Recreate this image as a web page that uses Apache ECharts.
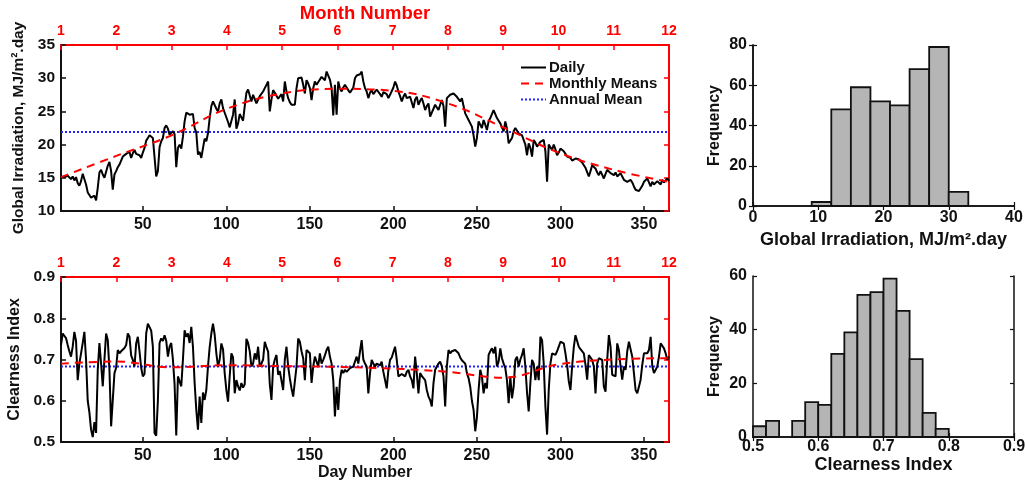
<!DOCTYPE html>
<html><head><meta charset="utf-8">
<script src="https://cdn.jsdelivr.net/npm/echarts@6/dist/echarts.min.js"></script>
<style>html,body{margin:0;padding:0;background:#fff}#c{width:1025px;height:481px}</style>
</head><body><div id="c"></div>
<script>
// ---- data ----
const irradiationDaily = [
15.2,15.0,15.1,14.9,15.3,15.0,14.8,15.2,14.6,15.1,
14.2,13.8,14.5,15.6,15.9,14.0,12.8,12.4,12.0,11.8,
12.3,11.6,13.5,15.8,16.2,15.5,15.0,15.3,16.8,17.4,
16.0,13.2,15.5,16.0,16.6,17.0,17.6,18.2,18.5,18.6,
18.3,18.9,18.0,18.7,19.2,18.6,18.9,18.4,18.0,18.8,
19.5,20.6,21.0,21.4,21.2,21.0,20.8,15.2,16.0,19.6,
20.5,21.0,22.5,22.9,22.4,21.5,21.2,22.0,21.6,16.6,
19.5,20.0,19.4,21.2,23.5,24.8,24.7,24.5,24.2,24.6,
22.5,21.8,18.5,18.9,18.0,18.3,20.9,20.5,21.7,24.0,
25.8,26.5,26.8,25.4,25.0,26.2,26.8,25.5,24.8,25.0,
23.4,22.6,22.8,24.5,26.8,22.4,23.2,24.6,24.1,23.6,
25.8,27.8,28.3,28.0,26.5,27.5,27.2,26.2,26.5,27.3,
27.2,28.0,28.5,29.0,29.5,25.0,26.8,28.2,27.8,27.6,
26.9,26.7,27.6,26.5,29.5,28.0,27.0,26.4,26.0,26.2,
26.0,28.5,30.0,30.2,30.1,29.0,27.7,29.7,29.2,28.5,
26.7,28.5,29.5,29.0,29.2,29.8,30.2,29.9,29.7,31.0,
30.7,29.8,28.5,24.4,29.0,24.5,29.5,28.4,28.0,28.6,
29.0,28.6,28.2,27.8,27.5,28.6,30.0,30.4,30.2,30.6,
31.0,29.5,28.5,28.0,27.0,27.8,28.2,27.6,27.7,28.3,
28.0,27.6,27.2,27.9,28.2,27.6,27.0,27.5,27.2,28.6,
29.5,28.9,28.0,27.3,26.5,27.2,27.7,27.0,26.7,27.2,
27.5,25.5,26.8,27.2,26.0,26.6,27.0,26.2,25.2,25.8,
26.2,24.2,24.8,25.0,26.0,25.6,25.2,26.0,26.7,25.8,
22.7,27.0,27.3,27.5,27.6,27.7,27.5,27.2,26.9,26.5,
27.0,25.8,24.7,25.0,23.7,23.5,22.7,21.4,19.7,21.0,
23.5,23.0,22.5,23.7,23.0,22.2,23.5,24.0,24.2,25.2,
24.6,24.0,23.6,23.2,22.6,22.0,23.5,22.4,20.2,20.0,
21.0,22.0,22.5,22.2,21.7,21.5,21.4,21.4,20.0,18.4,
20.2,19.5,18.2,20.7,20.3,19.7,20.0,20.4,20.5,20.7,
19.0,14.4,20.0,19.8,19.2,20.0,19.3,18.4,18.8,19.4,
19.2,19.0,18.6,18.2,18.4,18.0,17.6,17.4,17.9,17.7,
17.8,18.0,17.3,16.9,16.5,16.2,15.2,16.0,16.9,16.6,
16.4,15.8,15.4,16.0,15.9,14.9,15.6,16.2,15.9,15.7,
15.5,15.4,15.8,15.2,15.0,15.7,15.2,14.7,14.6,14.4,
14.6,14.7,14.3,13.7,13.2,12.9,13.0,13.2,13.8,14.4,
14.6,14.9,14.3,13.7,14.4,14.0,13.9,14.5,14.2,14.0,
14.7,14.3,14.4,14.9,14.5
];
const clearnessDaily = [
0.735,0.763,0.760,0.752,0.735,0.720,0.707,0.731,0.767,0.745,
0.650,0.690,0.715,0.740,0.767,0.700,0.600,0.572,0.530,0.512,
0.548,0.522,0.675,0.740,0.690,0.635,0.700,0.763,0.747,0.675,
0.538,0.602,0.667,0.680,0.723,0.715,0.720,0.723,0.728,0.735,
0.763,0.755,0.710,0.699,0.683,0.739,0.755,0.720,0.680,0.659,
0.665,0.763,0.787,0.791,0.770,0.731,0.522,0.515,0.600,0.740,
0.751,0.745,0.759,0.745,0.707,0.731,0.740,0.700,0.640,0.516,
0.659,0.655,0.635,0.700,0.771,0.755,0.763,0.740,0.779,0.731,
0.643,0.578,0.530,0.610,0.546,0.620,0.602,0.626,0.683,0.730,
0.763,0.787,0.760,0.715,0.683,0.700,0.739,0.725,0.667,0.626,
0.598,0.660,0.715,0.705,0.618,0.650,0.635,0.625,0.643,0.632,
0.640,0.750,0.740,0.720,0.683,0.690,0.715,0.700,0.731,0.683,
0.690,0.700,0.743,0.730,0.719,0.640,0.602,0.683,0.700,0.711,
0.663,0.672,0.675,0.626,0.700,0.731,0.683,0.654,0.630,0.610,
0.607,0.683,0.751,0.743,0.720,0.703,0.650,0.723,0.720,0.715,
0.643,0.683,0.707,0.695,0.683,0.715,0.690,0.699,0.710,0.723,
0.731,0.707,0.690,0.650,0.562,0.634,0.578,0.650,0.675,0.667,
0.675,0.670,0.667,0.679,0.680,0.683,0.695,0.707,0.690,0.720,
0.747,0.700,0.690,0.683,0.618,0.667,0.699,0.690,0.683,0.690,
0.688,0.686,0.695,0.670,0.650,0.630,0.675,0.699,0.705,0.707,
0.731,0.700,0.659,0.662,0.665,0.667,0.659,0.670,0.675,0.659,
0.650,0.630,0.707,0.667,0.618,0.667,0.660,0.655,0.650,0.626,
0.610,0.602,0.586,0.643,0.675,0.683,0.690,0.695,0.683,0.659,
0.586,0.683,0.723,0.715,0.720,0.719,0.723,0.727,0.715,0.705,
0.698,0.698,0.690,0.667,0.655,0.634,0.600,0.578,0.526,0.560,
0.626,0.675,0.659,0.618,0.643,0.630,0.711,0.720,0.727,0.715,
0.731,0.683,0.695,0.727,0.703,0.690,0.679,0.650,0.594,0.659,
0.606,0.634,0.699,0.707,0.683,0.700,0.711,0.727,0.683,0.620,
0.574,0.643,0.699,0.690,0.650,0.683,0.650,0.755,0.747,0.690,
0.586,0.518,0.626,0.690,0.715,0.719,0.711,0.720,0.731,0.743,
0.745,0.739,0.715,0.687,0.647,0.626,0.683,0.730,0.759,0.755,
0.731,0.725,0.723,0.715,0.687,0.651,0.711,0.705,0.699,0.683,
0.618,0.690,0.703,0.700,0.699,0.634,0.622,0.699,0.759,0.731,
0.663,0.665,0.659,0.739,0.723,0.683,0.651,0.683,0.675,0.720,
0.743,0.739,0.707,0.667,0.626,0.618,0.634,0.651,0.687,0.715,
0.711,0.715,0.723,0.755,0.683,0.667,0.663,0.683,0.707,0.739,
0.735,0.727,0.715,0.699,0.707
];
const monthNumbers = [1,2,3,4,5,6,7,8,9,10,11,12];
const irradiationMonthly = [15.1,18.3,21.4,25.4,27.7,28.4,28.1,26.2,22.6,18.8,16.2,14.4];
const clearnessMonthly = [0.690,0.695,0.681,0.686,0.684,0.682,0.678,0.670,0.656,0.688,0.700,0.703];
const irradiationAnnualMean = 21.9;
const clearnessAnnualMean = 0.683;
const dayTicks = [50,100,150,200,250,300,350];
const irradiationBinEdges = [9,12,15,18,21,24,27,30,33];
const irradiationCounts = [2,48,59,52,50,68,79,7];
const clearnessBinEdges = [0.50,0.52,0.54,0.56,0.58,0.60,0.62,0.64,0.66,0.68,0.70,0.72,0.74,0.76,0.78,0.80];
const clearnessCounts = [4,6,0,6,13,12,31,39,53,54,59,47,29,9,3];

// ---- chart ----
const FONT = "'Liberation Sans', Arial, sans-serif";
const RED = '#ff0000';
const txt = (size, color) => ({fontFamily: FONT, fontWeight: 'bold', fontSize: size, color: color || '#111'});
const chart = echarts.init(document.getElementById('c'), null, {renderer: 'canvas'});

function dayAxis(grid, name) {
  return {type: 'value', gridIndex: grid, position: 'bottom', min: 1, max: 365,
    axisLine: {show: true, lineStyle: {color: '#111', width: 2}},
    axisTick: {show: true, inside: true, length: 5, customValues: dayTicks, lineStyle: {color: '#111', width: 1.5}},
    axisLabel: {show: true, customValues: dayTicks, margin: 6, ...txt(16, '#111')},
    splitLine: {show: false},
    name: name || '', nameLocation: 'middle', nameGap: 23, nameTextStyle: {...txt(16, '#111'), verticalAlign: 'top'}};
}
function monthAxis(grid, name) {
  return {type: 'value', gridIndex: grid, position: 'top', min: 1, max: 12, interval: 1,
    axisLine: {show: true, lineStyle: {color: RED, width: 2}},
    axisTick: {show: true, inside: true, length: 5, lineStyle: {color: RED, width: 1.5}},
    axisLabel: {show: true, margin: 7, ...txt(14, RED)},
    splitLine: {show: false},
    name: name || '', nameLocation: 'middle', nameGap: 19, nameTextStyle: txt(18.5, RED)};
}
function leftAxis(grid, min, max, interval, name, gap, nameSize, fmt) {
  return {type: 'value', gridIndex: grid, position: 'left', min, max, interval,
    axisLine: {show: true, lineStyle: {color: '#111', width: 2}},
    axisTick: {show: true, inside: true, length: 5, lineStyle: {color: '#111', width: 1.5}},
    axisLabel: {show: true, margin: 6, formatter: fmt, ...txt(15.5, '#111')},
    splitLine: {show: false},
    name, nameLocation: 'middle', nameGap: gap, nameTextStyle: txt(nameSize, '#111')};
}
function rightRedAxis(grid, min, max, interval) {
  return {type: 'value', gridIndex: grid, position: 'right', min, max, interval,
    axisLine: {show: true, lineStyle: {color: RED, width: 2}},
    axisTick: {show: true, inside: true, length: 5, lineStyle: {color: RED, width: 1.5}},
    axisLabel: {show: false}, splitLine: {show: false}};
}
function histX(grid, min, max, interval, name, gap, fmt, margin) {
  return {type: 'value', gridIndex: grid, position: 'bottom', min, max, interval,
    axisLine: {show: true, lineStyle: {color: '#111', width: 1.5}},
    axisTick: {show: true, inside: true, length: 4, lineStyle: {color: '#111', width: 1.2}},
    axisLabel: {show: true, margin, formatter: fmt, ...txt(16, '#111')},
    splitLine: {show: false},
    name, nameLocation: 'middle', nameGap: gap, nameTextStyle: {...txt(18, '#111'), verticalAlign: 'top'}};
}
function mirrorX(grid, min, max, interval) {
  return {type: 'value', gridIndex: grid, position: 'top', min, max, interval,
    axisLine: {show: true, lineStyle: {color: '#111', width: 1.5}},
    axisTick: {show: true, inside: true, length: 4, lineStyle: {color: '#111', width: 1.2}},
    axisLabel: {show: false}, splitLine: {show: false}};
}
function histY(grid, max, interval) {
  return {type: 'value', gridIndex: grid, position: 'left', min: 0, max, interval,
    axisLine: {show: true, lineStyle: {color: '#111', width: 1.5}},
    axisTick: {show: true, inside: true, length: 4, lineStyle: {color: '#111', width: 1.2}},
    axisLabel: {show: true, margin: 6, ...txt(16, '#111')},
    splitLine: {show: false},
    name: 'Frequency', nameLocation: 'middle', nameGap: 30, nameTextStyle: txt(16, '#111')};
}
function mirrorY(grid, max, interval) {
  return {type: 'value', gridIndex: grid, position: 'right', min: 0, max, interval,
    axisLine: {show: true, lineStyle: {color: '#111', width: 1.5}},
    axisTick: {show: true, inside: true, length: 4, lineStyle: {color: '#111', width: 1.2}},
    axisLabel: {show: false}, splitLine: {show: false}};
}
function histRender(params, api) {
  const x0 = api.value(0), x1 = api.value(1), c = api.value(2);
  if (!c) return null;
  const p0 = api.coord([x0, c]);
  const p1 = api.coord([x1, 0]);
  return {type: 'rect', shape: {x: p0[0], y: p0[1], width: p1[0] - p0[0], height: p1[1] - p0[1]},
    style: {fill: '#b5b5b5', stroke: '#111', lineWidth: 1.8}};
}
const f1 = v => v.toFixed(1);

const option = {
  backgroundColor: '#fff',
  animation: false,
  grid: [
    {left: 61, top: 45, width: 608, height: 166, outerBoundsMode: 'none'},
    {left: 61, top: 277, width: 608, height: 165, outerBoundsMode: 'none'},
    {left: 753, top: 45, width: 261, height: 161, outerBoundsMode: 'none'},
    {left: 753, top: 276, width: 261, height: 161, outerBoundsMode: 'none'}
  ],
  xAxis: [
    dayAxis(0), monthAxis(0, 'Month Number'),
    dayAxis(1, 'Day Number'), monthAxis(1),
    histX(2, 0, 40, 10, 'Global Irradiation, MJ/m².day', 25, undefined, 4), mirrorX(2, 0, 40, 10),
    histX(3, 0.5, 0.9, 0.1, 'Clearness Index', 17, f1, 2), mirrorX(3, 0.5, 0.9, 0.1)
  ],
  yAxis: [
    leftAxis(0, 10, 35, 5, 'Global Irradiation, MJ/m².day', 31, 15.5), rightRedAxis(0, 10, 35, 5),
    leftAxis(1, 0.5, 0.9, 0.1, 'Clearness Index', 35, 16, f1), rightRedAxis(1, 0.5, 0.9, 0.1),
    histY(2, 80, 20), mirrorY(2, 80, 20),
    histY(3, 60, 20), mirrorY(3, 60, 20)
  ],
  legend: {
    show: true, orient: 'vertical', left: 515, top: 55, itemWidth: 25, itemHeight: 10, itemGap: 1,
    data: ['Daily', 'Monthly Means', 'Annual Mean'],
    itemStyle: {opacity: 0},
    textStyle: {...txt(15, '#111'), padding: [0, 0, 0, -2]}
  },
  series: [
    {name: 'Daily', type: 'line', xAxisIndex: 0, yAxisIndex: 0, symbol: 'none',
     data: irradiationDaily.map((v, i) => [i + 1, v]), lineStyle: {color: '#000', width: 2}, itemStyle: {color: '#000'}, z: 3},
    {name: 'Monthly Means', type: 'line', xAxisIndex: 1, yAxisIndex: 0, symbol: 'none', smooth: 0.4,
     data: monthNumbers.map((m, i) => [m, irradiationMonthly[i]]), lineStyle: {color: RED, width: 2, type: [8, 6]}, itemStyle: {color: RED}, z: 4},
    {name: 'Annual Mean', type: 'line', xAxisIndex: 0, yAxisIndex: 0, symbol: 'none',
     data: [[1, irradiationAnnualMean], [365, irradiationAnnualMean]], lineStyle: {color: '#2222ff', width: 2, type: [2, 2]}, itemStyle: {color: '#2222ff'}, z: 2},
    {name: 'Daily', type: 'line', xAxisIndex: 2, yAxisIndex: 2, symbol: 'none',
     data: clearnessDaily.map((v, i) => [i + 1, v]), lineStyle: {color: '#000', width: 2}, itemStyle: {color: '#000'}, z: 3},
    {name: 'Monthly Means', type: 'line', xAxisIndex: 3, yAxisIndex: 2, symbol: 'none', smooth: 0.4,
     data: monthNumbers.map((m, i) => [m, clearnessMonthly[i]]), lineStyle: {color: RED, width: 2, type: [8, 6]}, itemStyle: {color: RED}, z: 4},
    {name: 'Annual Mean', type: 'line', xAxisIndex: 2, yAxisIndex: 2, symbol: 'none',
     data: [[1, clearnessAnnualMean], [365, clearnessAnnualMean]], lineStyle: {color: '#2222ff', width: 2, type: [2, 2]}, itemStyle: {color: '#2222ff'}, z: 2},
    {type: 'custom', xAxisIndex: 4, yAxisIndex: 4, renderItem: histRender, encode: {x: [0, 1], y: 2},
     data: irradiationCounts.map((c, i) => [irradiationBinEdges[i], irradiationBinEdges[i + 1], c])},
    {type: 'custom', xAxisIndex: 6, yAxisIndex: 6, renderItem: histRender, encode: {x: [0, 1], y: 2},
     data: clearnessCounts.map((c, i) => [clearnessBinEdges[i], clearnessBinEdges[i + 1], c])}
  ]
};
chart.setOption(option);
</script>
</body></html>
